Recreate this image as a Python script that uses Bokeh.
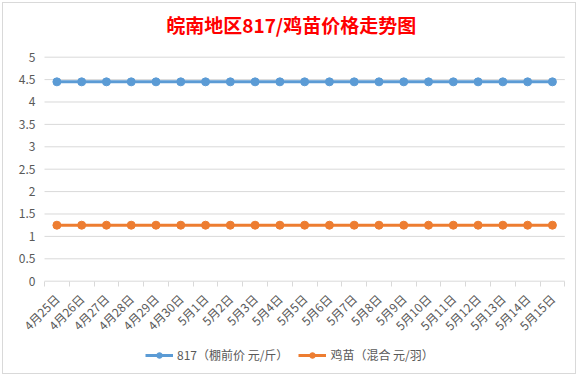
from math import pi
from bokeh.plotting import figure
from bokeh.models import Range1d, FixedTicker, CustomJSTickFormatter, Legend, LegendItem, Label
from bokeh.embed import file_html
from bokeh.resources import INLINE

# ---- data ----
dates = ["4月25日", "4月26日", "4月27日", "4月28日", "4月29日", "4月30日",
         "5月1日", "5月2日", "5月3日", "5月4日", "5月5日", "5月6日", "5月7日",
         "5月8日", "5月9日", "5月10日", "5月11日", "5月12日", "5月13日",
         "5月14日", "5月15日"]
price_817 = [4.45, 4.45, 4.45, 4.45, 4.45, 4.45, 4.45, 4.45, 4.45, 4.45, 4.45,
             4.45, 4.45, 4.45, 4.45, 4.45, 4.45, 4.45, 4.45, 4.45, 4.45]
price_chick = [1.25, 1.25, 1.25, 1.25, 1.25, 1.25, 1.25, 1.25, 1.25, 1.25, 1.25,
               1.25, 1.25, 1.25, 1.25, 1.25, 1.25, 1.25, 1.25, 1.25, 1.25]
y_ticks = [0, 0.5, 1, 1.5, 2, 2.5, 3, 3.5, 4, 4.5, 5]
series_names = ["817（棚前价 元/斤）", "鸡苗（混合 元/羽）"]
title_text = "皖南地区817/鸡苗价格走势图"

idx = list(range(len(dates)))
boundaries = [i - 0.5 for i in idx] + [len(dates) - 0.5]
cat_lo = idx[0] - 0.5
cat_hi = idx[-1] + 0.5

CJK = "Noto Sans CJK SC"
GRID = "#d9d9d9"
TXT = "#595959"
BLUE = "#5B9BD5"
ORANGE = "#ED7D31"

# The plotting frame covers almost the whole chart box, so the title, the
# slanted category labels and the legend are drawn inside it (not clipped).
p = figure(width=574, height=372, title=None,
           x_range=Range1d(cat_lo - 1.534, cat_hi + 0.432),
           y_range=Range1d(-2.038, 6.154),
           output_backend="svg", toolbar_location=None,
           min_border_left=3, min_border_right=2,
           min_border_top=2, min_border_bottom=3)
p.styles = {"border": "1px solid #d9d9d9", "margin-left": "2px", "margin-top": "2px"}
p.outline_line_color = None
p.background_fill_color = "white"
p.border_fill_color = "white"

# title
p.add_layout(Label(x=284.7, y=348, x_units="screen", y_units="screen",
                   text=title_text, text_color="#FF0000", text_font=CJK,
                   text_font_size="19px", text_font_style="bold",
                   text_align="center", text_baseline="middle"))

# grids (only across the category span)
p.xgrid.grid_line_color = None
p.ygrid.grid_line_color = None
p.segment(x0=[cat_lo] * len(y_ticks), y0=y_ticks,
          x1=[cat_hi] * len(y_ticks), y1=y_ticks,
          line_color=GRID, line_width=1)

# y axis (drawn at the left edge of the category span)
ya = p.yaxis[0]
ya.fixed_location = cat_lo
ya.ticker = FixedTicker(ticks=y_ticks)
ya.formatter = CustomJSTickFormatter(code="return tick.toString();")
ya.axis_line_color = None
ya.major_tick_line_color = None
ya.major_tick_out = 0
ya.major_tick_in = 0
ya.minor_tick_line_color = None
ya.major_label_text_color = TXT
ya.major_label_text_font = CJK
ya.major_label_text_font_size = "12px"
ya.major_label_standoff = 9

# x axis (drawn at value 0)
xa = p.xaxis[0]
xa.fixed_location = 0
xa.ticker = FixedTicker(ticks=idx, minor_ticks=boundaries)
xa.formatter = CustomJSTickFormatter(args=dict(labels=dates), code="""
const i = Math.round(tick);
return (i >= 0 && i < labels.length) ? labels[i] : '';
""")
xa.axis_line_color = None
xa.major_tick_line_color = None
xa.major_tick_out = 0
xa.major_tick_in = 0
xa.minor_tick_line_color = GRID
xa.minor_tick_out = 5
xa.minor_tick_in = 0
xa.major_label_orientation = pi / 4
xa.major_label_standoff = 10
xa.major_label_text_color = TXT
xa.major_label_text_font = CJK
xa.major_label_text_font_size = "12px"

# series
r1 = p.line(idx, price_817, line_color=BLUE, line_width=3)
c1 = p.scatter(idx, price_817, size=8, fill_color=BLUE, line_color=BLUE)
r2 = p.line(idx, price_chick, line_color=ORANGE, line_width=3)
c2 = p.scatter(idx, price_chick, size=8, fill_color=ORANGE, line_color=ORANGE)

legend = Legend(items=[LegendItem(label=series_names[0], renderers=[r1, c1]),
                       LegendItem(label=series_names[1], renderers=[r2, c2])],
                orientation="horizontal", location=(139, 9),
                padding=0, margin=0, spacing=10,
                border_line_color=None, background_fill_alpha=0,
                glyph_width=28, glyph_height=14, label_height=14,
                label_standoff=4, label_text_font=CJK,
                label_text_font_size="12px", label_text_color=TXT)
p.add_layout(legend)

open("out.html", "w").write(file_html(p, INLINE))
